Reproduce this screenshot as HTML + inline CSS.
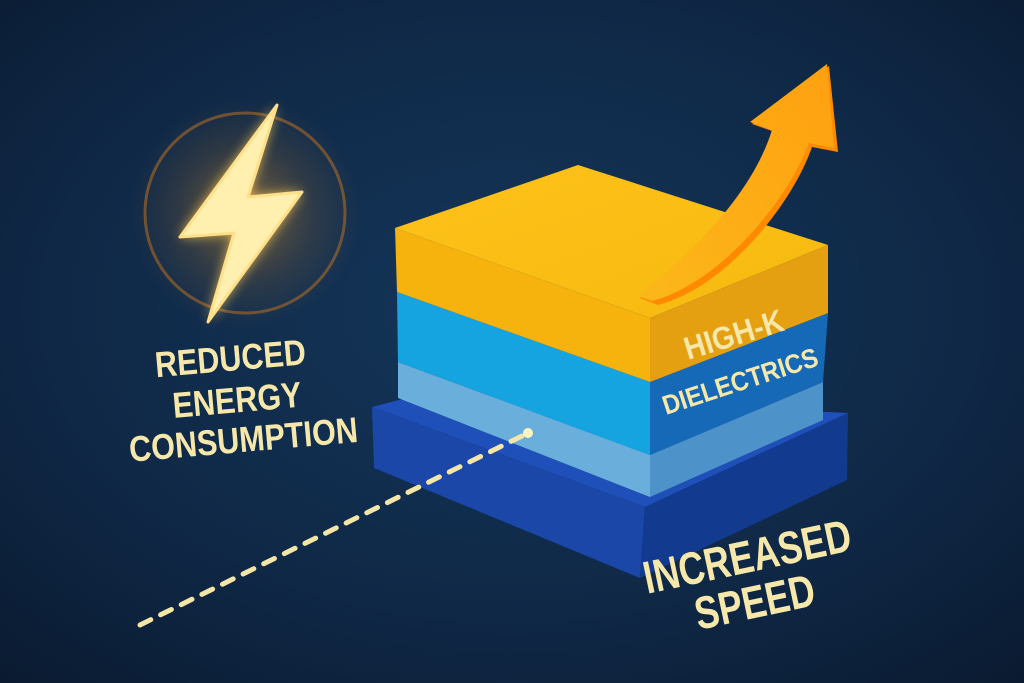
<!DOCTYPE html>
<html><head><meta charset="utf-8"><style>
html,body{margin:0;padding:0;width:1024px;height:683px;overflow:hidden;background:#0e2440}
svg{display:block}
text{font-family:"Liberation Sans","DejaVu Sans",sans-serif;font-weight:bold;fill:#f6e7aa}
</style></head><body>
<svg width="1024" height="683" viewBox="0 0 1024 683" xmlns="http://www.w3.org/2000/svg">
<defs>
<radialGradient id="bg" cx="50%" cy="45%" r="75%">
<stop offset="0" stop-color="#14365a"/><stop offset="0.6" stop-color="#0f2846"/><stop offset="1" stop-color="#0a1a30"/>
</radialGradient>
<radialGradient id="glow" cx="50%" cy="50%" r="50%">
<stop offset="0" stop-color="#ffb030" stop-opacity="0.45"/><stop offset="0.6" stop-color="#d08020" stop-opacity="0.15"/><stop offset="1" stop-color="#d08020" stop-opacity="0"/>
</radialGradient>
<linearGradient id="ytop" x1="0" y1="0" x2="1" y2="1"><stop offset="0" stop-color="#fdc21a"/><stop offset="1" stop-color="#f7b90f"/></linearGradient>
<linearGradient id="arr" x1="0" y1="1" x2="1" y2="0"><stop offset="0" stop-color="#fbb81a"/><stop offset="1" stop-color="#ffa010"/></linearGradient>
<filter id="blur"><feGaussianBlur stdDeviation="6"/></filter>
</defs>
<rect width="1024" height="683" fill="url(#bg)"/>
<!-- glow circle -->
<circle cx="245" cy="213" r="115" fill="url(#glow)"/>
<circle cx="245" cy="213" r="100" fill="none" stroke="#b86f20" stroke-opacity="0.55" stroke-width="3"/>
<polygon points="277,105 180,237 234,233 208,322 302,192 248,197" fill="#ffcc55" filter="url(#blur)" opacity="0.9"/>
<polygon points="277,105 180,237 234,233 208,322 302,192 248,197" fill="#fff0b0" stroke="#ffe08a" stroke-width="3" stroke-linejoin="round"/>
<!-- left text -->
<g transform="rotate(-5 240 400)">
<text transform="translate(234,370) scale(0.85,1)" font-size="36" text-anchor="middle">REDUCED</text>
<text transform="translate(237,412) scale(0.85,1)" font-size="36" text-anchor="middle">ENERGY</text>
<text transform="translate(240,452) scale(0.85,1)" font-size="36" text-anchor="middle">CONSUMPTION</text>
</g>
<!-- base -->
<polygon points="372,407 430,392 848,413 645,507" fill="#1f4fb8"/>
<polygon points="372,407 645,507 640,578 374,468" fill="#1a47a8"/>
<polygon points="645,507 848,413 847,480 640,578" fill="#123a8f"/>
<!-- light blue layer -->
<polygon points="398,362 650,455 650,497 398,398" fill="#6aaedb"/>
<polygon points="650,455 823,382 823,420 650,497" fill="#4d92c8"/>
<!-- cyan layer -->
<polygon points="397,292 650,382 650,455 398,362" fill="#16a4e0"/>
<polygon points="650,382 828,313 823,382 650,455" fill="#1569b6"/>
<!-- yellow -->
<polygon points="395,228 578,165 828,245 650,318" fill="url(#ytop)"/>
<polygon points="395,228 650,318 650,382 397,292" fill="#f6b30e"/>
<polygon points="650,318 828,245 828,313 650,382" fill="#e5a012"/>
<!-- dotted line -->
<line x1="140" y1="625" x2="522" y2="436" stroke="#f3e6a6" stroke-width="5" stroke-dasharray="12 11" stroke-linecap="round"/>
<circle cx="528" cy="433" r="5" fill="#fff3c0"/>
<!-- arrow -->
<path d="M640,298 C720,235 760,180 775,132 L752,124 L829,66 L838,152 L812,147 C792,205 725,288 658,305 Z" fill="#ff8a00"/>
<path d="M638,296 C718,232 757,178 772,130 L750,122 L827,64 L834,148 L809,143 C788,200 720,283 652,301 Z" fill="url(#arr)"/>
<!-- labels -->
<text transform="translate(688,360) rotate(-17) scale(0.9,1)" font-size="32">HIGH-K</text>
<text transform="translate(666,415) rotate(-18) scale(0.9,1)" font-size="27">DIELECTRICS</text>
<g transform="rotate(-12 750 570)">
<text transform="translate(750,572) scale(0.78,1)" font-size="46" text-anchor="middle">INCREASED</text>
<text transform="translate(748,618) scale(0.78,1)" font-size="46" text-anchor="middle">SPEED</text>
</g>
</svg>
</body></html>
